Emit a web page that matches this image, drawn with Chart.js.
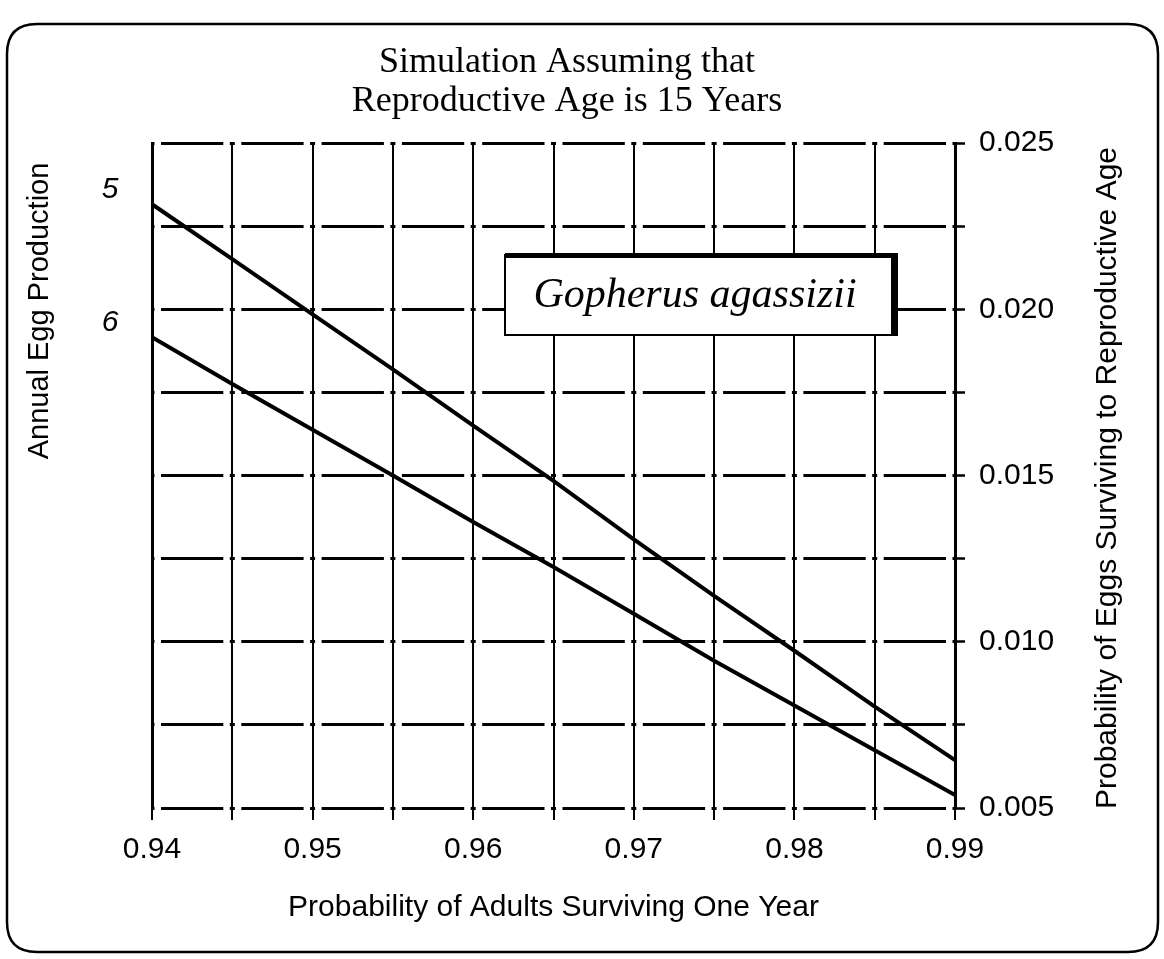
<!DOCTYPE html>
<html><head><meta charset="utf-8">
<script src="https://cdn.jsdelivr.net/npm/chart.js@4/dist/chart.umd.min.js"></script>
<style>html,body{margin:0;padding:0;background:#fff}#wrap{width:1164px;height:959px;position:relative}</style>
</head><body><div id="wrap"><canvas id="c" width="1164" height="959"></canvas></div>
<script>
// ---- data ----
const survival = [0.940, 0.945, 0.950, 0.955, 0.960, 0.965, 0.970, 0.975, 0.980, 0.985, 0.990];
const eggs5 = [0.02316, 0.02151, 0.01985, 0.01819, 0.01650, 0.01484, 0.01308, 0.01138, 0.00973, 0.00805, 0.00644];
const eggs6 = [0.01916, 0.01775, 0.01638, 0.01500, 0.01360, 0.01225, 0.01084, 0.00943, 0.00808, 0.00674, 0.00539];
const seriesLabels = ['5', '6'];
const xGridValues = [0.940, 0.945, 0.950, 0.955, 0.960, 0.965, 0.970, 0.975, 0.980, 0.985, 0.990];
const xTickLabels = ['0.94', '0.95', '0.96', '0.97', '0.98', '0.99'];
const yGridValues = [0.005, 0.0075, 0.010, 0.0125, 0.015, 0.0175, 0.020, 0.0225, 0.025];
const yTickLabels = ['0.005', '0.010', '0.015', '0.020', '0.025'];
const titleLines = ['Simulation Assuming that', 'Reproductive Age is 15 Years'];
const xTitle = 'Probability of Adults Surviving One Year';
const yLeftTitle = 'Annual Egg Production';
const yRightTitle = 'Probability of Eggs Surviving to Reproductive Age';
const speciesName = 'Gopherus agassizii';

const SANS = "'Liberation Sans', Arial, Helvetica, sans-serif";
const SERIF = "'Liberation Serif', 'Times New Roman', Times, serif";

function matchLabel(v, labels) {
  for (const l of labels) { if (Math.abs(parseFloat(l) - v) < 1e-9) return l; }
  return '';
}

const decor = {
  id: 'decor',
  afterDatasetsDraw(chart) {
    const ctx = chart.ctx;
    // species box
    const bx = 505, by = 255, bw = 388, bh = 80;
    ctx.save();
    ctx.fillStyle = '#fff';
    ctx.fillRect(bx, by, bw, bh);
    ctx.strokeStyle = '#000';
    ctx.lineWidth = 2;
    ctx.strokeRect(bx, by, bw, bh);
    ctx.fillStyle = '#000';
    ctx.fillRect(bx, by - 2, bw + 4, 5);      // heavy top edge
    ctx.fillRect(bx + bw - 2, by - 2, 7, bh + 3); // heavy right edge (shadow)
    ctx.font = 'italic 42px ' + SERIF;
    ctx.textAlign = 'center';
    ctx.textBaseline = 'alphabetic';
    ctx.fillText(speciesName, bx + bw / 2 - 4, 307);
    ctx.restore();
  },
  afterDraw(chart) {
    const ctx = chart.ctx;
    const area = chart.chartArea;
    const yS = chart.scales.y;
    ctx.save();
    // rounded frame
    const fx = 7, fy = 24, fw = 1151, fh = 928, r = 30;
    ctx.strokeStyle = '#000';
    ctx.lineWidth = 2.5;
    ctx.beginPath();
    ctx.moveTo(fx + r, fy);
    ctx.lineTo(fx + fw - r, fy);
    ctx.quadraticCurveTo(fx + fw, fy, fx + fw, fy + r);
    ctx.lineTo(fx + fw, fy + fh - r);
    ctx.quadraticCurveTo(fx + fw, fy + fh, fx + fw - r, fy + fh);
    ctx.lineTo(fx + r, fy + fh);
    ctx.quadraticCurveTo(fx, fy + fh, fx, fy + fh - r);
    ctx.lineTo(fx, fy + r);
    ctx.quadraticCurveTo(fx, fy, fx + r, fy);
    ctx.closePath();
    ctx.stroke();
    // series labels (egg production) left of the axis
    ctx.fillStyle = '#000';
    ctx.font = 'italic 30px ' + SANS;
    ctx.textAlign = 'center';
    ctx.textBaseline = 'middle';
    const firsts = [eggs5[0], eggs6[0]];
    seriesLabels.forEach((lab, i) => {
      ctx.fillText(lab, area.left - 42, yS.getPixelForValue(firsts[i]) - 15);
    });
    // left axis title (reads bottom to top)
    ctx.font = '29px ' + SANS;
    ctx.save();
    ctx.translate(40, 311);
    ctx.rotate(-Math.PI / 2);
    ctx.fillText(yLeftTitle, 0, 0);
    ctx.restore();
    // right axis title (reads bottom to top)
    ctx.save();
    ctx.translate(1108, 478);
    ctx.rotate(-Math.PI / 2);
    ctx.font = '30px ' + SANS;
    ctx.fillText(yRightTitle, 0, 0);
    ctx.restore();
    ctx.restore();
  }
};

new Chart(document.getElementById('c'), {
  type: 'line',
  data: {
    datasets: [
      { label: seriesLabels[0], data: survival.map((x, i) => ({ x, y: eggs5[i] })), borderColor: '#000', borderWidth: 4, pointRadius: 0, tension: 0, fill: false, yAxisID: 'y' },
      { label: seriesLabels[1], data: survival.map((x, i) => ({ x, y: eggs6[i] })), borderColor: '#000', borderWidth: 4, pointRadius: 0, tension: 0, fill: false, yAxisID: 'y' }
    ]
  },
  options: {
    responsive: false,
    animation: false,
    devicePixelRatio: 1,
    layout: { padding: { top: 20, left: 0, right: 30, bottom: 10 } },
    plugins: {
      legend: { display: false },
      tooltip: { enabled: false },
      title: {
        display: true,
        text: titleLines,
        color: '#000',
        font: { family: SERIF, size: 36, weight: 'normal', lineHeight: 1.08 },
        padding: { top: 23, bottom: 22.3 }
      }
    },
    scales: {
      x: {
        type: 'linear',
        min: 0.94, max: 0.99,
        afterBuildTicks: s => { s.ticks = xGridValues.map(v => ({ value: v })); },
        afterFit: s => { s.height = 141; },
        ticks: {
          autoSkip: false, maxRotation: 0, color: '#000', padding: 12,
          font: { family: SANS, size: 30 },
          callback: v => matchLabel(v, xTickLabels)
        },
        grid: { color: '#000', lineWidth: 2, drawTicks: true, tickLength: 12 },
        border: { display: false },
        title: {
          display: true, text: xTitle, color: '#000',
          font: { family: SANS, size: 30 }, padding: { top: 4, bottom: 23 }
        }
      },
      yL: {
        type: 'linear', position: 'left',
        min: 0.005, max: 0.025,
        afterFit: s => { s.width = 152; },
        ticks: { display: false },
        grid: { display: false, drawTicks: false },
        border: { display: true, color: '#000', width: 3 }
      },
      y: {
        type: 'linear', position: 'right',
        min: 0.005, max: 0.025,
        afterBuildTicks: s => { s.ticks = yGridValues.map(v => ({ value: v })); },
        afterFit: s => { s.width = 179; },
        ticks: {
          autoSkip: false, color: '#000', padding: 14,
          font: { family: SANS, size: 30 },
          callback: v => matchLabel(v, yTickLabels)
        },
        grid: { color: '#000', lineWidth: 3, drawTicks: true, tickLength: 10, tickWidth: 2.5 },
        border: { display: true, color: '#000', width: 3, dash: [5, 6.5, 62.3, 6.5], dashOffset: 2.5 }
      }
    }
  },
  plugins: [decor]
});
</script>
</body></html>
